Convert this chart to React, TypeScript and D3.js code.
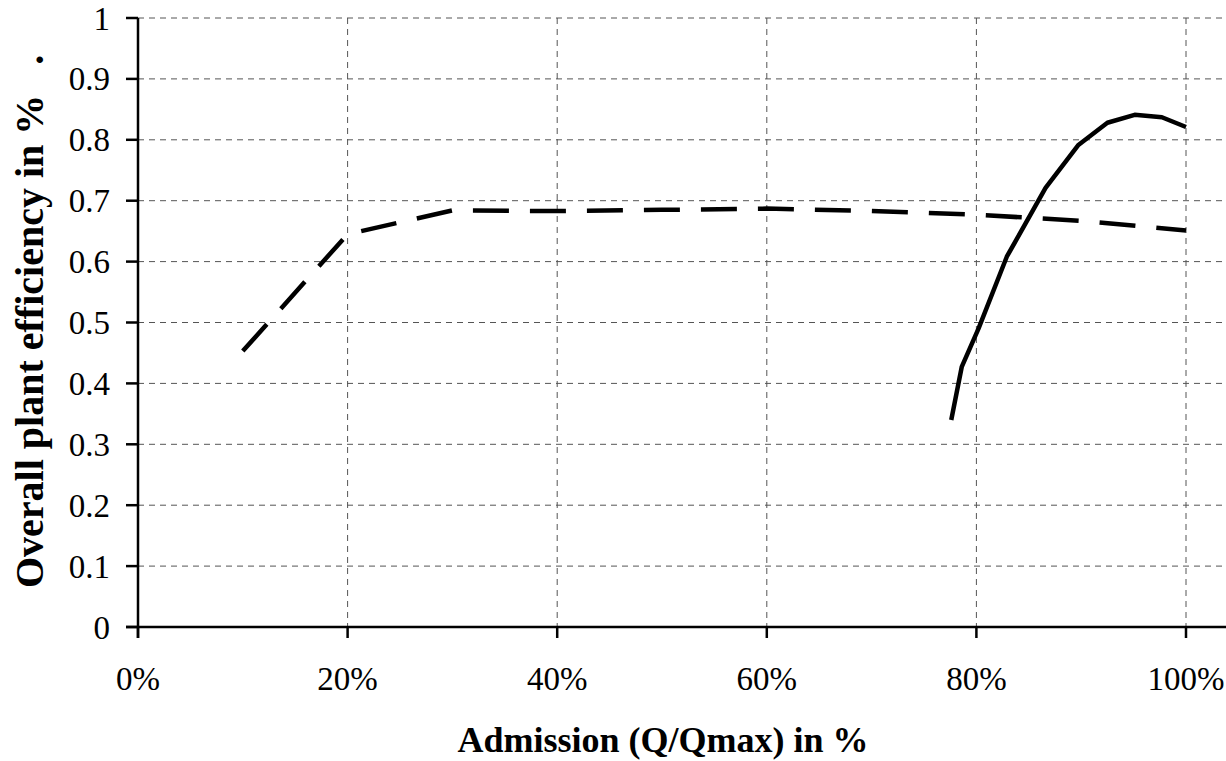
import React from "react";
import * as d3 from "d3";

const xTicks = [0, 20, 40, 60, 80, 100];
const yTicks = [0, 0.1, 0.2, 0.3, 0.4, 0.5, 0.6, 0.7, 0.8, 0.9, 1];
const yTickLabels = ["0", "0.1", "0.2", "0.3", "0.4", "0.5", "0.6", "0.7", "0.8", "0.9", "1"];

const dashedX = [10, 20, 30, 40, 50, 60, 70, 80, 90, 100];
const dashedY = [0.453, 0.645, 0.684, 0.683, 0.685, 0.687, 0.683, 0.677, 0.667, 0.651];

const solidX = [77.6, 78.6, 80.2, 82.9, 86.6, 89.7, 92.5, 95.1, 97.7, 100];
const solidY = [0.34, 0.427, 0.49, 0.608, 0.721, 0.791, 0.828, 0.841, 0.837, 0.821];

const W = 1226;
const H = 761;
const left = 138;
const right = 1186;
const top = 18;
const bottom = 627;

export default function App() {
  const x = d3.scaleLinear().domain([0, 100]).range([left, right]);
  const y = d3.scaleLinear().domain([0, 1]).range([bottom, top]);
  const line = d3
    .line<[number, number]>()
    .x((d) => x(d[0]))
    .y((d) => y(d[1]));
  const dashed = line(dashedX.map((v, i) => [v, dashedY[i]] as [number, number])) || "";
  const solid = line(solidX.map((v, i) => [v, solidY[i]] as [number, number])) || "";
  const font = "'Liberation Serif', 'Times New Roman', serif";

  return (
    <svg
      width={W}
      height={H}
      style={{ position: "absolute", left: 0, top: 0, background: "#fff" }}
      fontFamily={font}
    >
      {yTicks.slice(1).map((t) => (
        <line
          key={"hg" + t}
          x1={left}
          x2={W}
          y1={y(t)}
          y2={y(t)}
          stroke="#555"
          strokeWidth={1}
          strokeDasharray="6,5"
        />
      ))}
      {xTicks.slice(1).map((t) => (
        <line
          key={"vg" + t}
          x1={x(t)}
          x2={x(t)}
          y1={top}
          y2={bottom}
          stroke="#555"
          strokeWidth={1}
          strokeDasharray="6,5"
        />
      ))}
      <line x1={left} x2={left} y1={top} y2={bottom + 11} stroke="#000" strokeWidth={2.5} />
      <line x1={left - 12} x2={W} y1={bottom} y2={bottom} stroke="#000" strokeWidth={2.5} />
      {yTicks.map((t, i) => (
        <g key={"yt" + t}>
          <line x1={left - 12} x2={left} y1={y(t)} y2={y(t)} stroke="#000" strokeWidth={2.5} />
          <text x={110} y={y(t)} dy="0.35em" textAnchor="end" fontSize={33}>
            {yTickLabels[i]}
          </text>
        </g>
      ))}
      {xTicks.map((t) => (
        <g key={"xt" + t}>
          <line x1={x(t)} x2={x(t)} y1={bottom} y2={bottom + 11} stroke="#000" strokeWidth={2.5} />
          <text x={x(t)} y={690} textAnchor="middle" fontSize={33}>
            {t + "%"}
          </text>
        </g>
      ))}
      <path d={dashed} fill="none" stroke="#000" strokeWidth={4.5} strokeDasharray="36,21" />
      <path d={solid} fill="none" stroke="#000" strokeWidth={4.5} strokeLinejoin="round" />
      <text x={663} y={752} textAnchor="middle" fontSize={36} fontWeight="bold">
        Admission (Q/Qmax) in %
      </text>
      <text
        transform={`translate(43, 588) rotate(-90)`}
        textAnchor="start"
        fontSize={40}
        fontWeight="bold"
        style={{ whiteSpace: "pre" }}
      >
        {"Overall plant efficiency in %   ."}
      </text>
    </svg>
  );
}
